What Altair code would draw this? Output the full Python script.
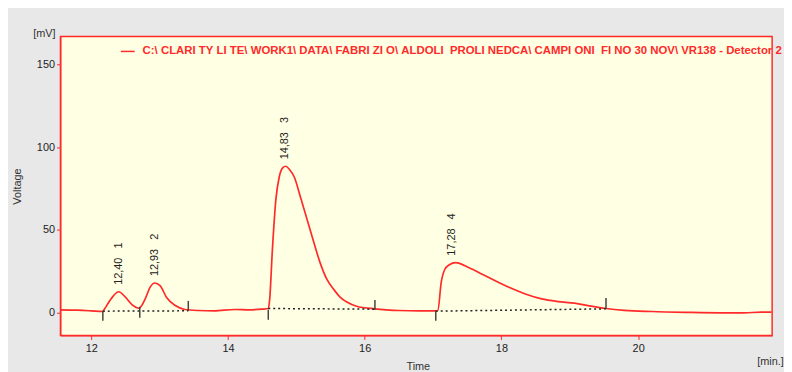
import altair as alt
import pandas as pd

# ---- data ----
trace_time = [11.55, 11.8, 12.0, 12.17, 12.19, 12.31, 12.40, 12.50, 12.60, 12.70, 12.79, 12.86, 12.93,
              13.01, 13.10, 13.23, 13.37, 13.56, 13.8, 14.1, 14.3, 14.5, 14.59, 14.61, 14.65, 14.70,
              14.75, 14.80, 14.845, 14.90, 14.97, 15.06, 15.16, 15.26, 15.35, 15.45, 15.55, 15.64,
              15.74, 15.88, 16.15, 16.32, 16.5, 16.8, 17.04, 17.07, 17.12, 17.17, 17.24, 17.33, 17.52,
              17.72, 17.91, 18.11, 18.35, 18.59, 18.83, 19.07, 19.31, 19.53, 19.80, 20.2, 20.7, 21.2,
              21.55, 21.8, 21.95]
trace_mv = [1.8, 1.6, 1.2, 0.8, 2.0, 9.5, 12.7, 9.5, 4.8, 2.8, 8.4, 15.4, 18.0,
            16.3, 9.4, 4.4, 2.0, 1.4, 1.2, 2.0, 1.8, 2.2, 2.6, 8.0, 38.0, 68.0,
            82.0, 87.5, 88.5, 86.5, 82.0, 70.0, 56.0, 42.0, 30.0, 20.0, 14.0, 9.5,
            6.5, 4.0, 2.4, 1.8, 1.4, 1.2, 1.2, 1.4, 18.5, 26.0, 29.0, 30.3, 27.3,
            23.3, 19.3, 15.4, 11.4, 8.4, 6.8, 5.8, 4.0, 2.6, 1.5, 0.8, 0.3, 0.0,
            0.0, 0.4, 0.4]

NB = "\u00a0"
peak_rt = [12.40, 12.93, 14.83, 17.28]
peak_height = [12.7, 18.0, 88.5, 30.3]
peak_time_text = ["12,40", "12,93", "14,83", "17,28"]
peak_number = ["1", "2", "3", "4"]

base_start = [12.17, 14.59, 17.04]
base_start_mv = [1.0, 2.6, 1.0]
base_end = [13.42, 16.15, 19.53]
base_end_mv = [1.2, 2.2, 2.4]

mark_time = [12.17, 12.71, 13.42, 14.59, 16.15, 17.04, 19.53]
mark_top = [1.2, 3.6, 7.2, 1.8, 7.8, 1.2, 9.0]
mark_bottom = [-4.8, -3.0, 1.2, -4.2, 1.8, -4.8, 2.4]

x_ticks = [12, 14, 16, 18, 20]
y_ticks = [0, 50, 100, 150]

legend_text = ("C:\\ CLARI TY LI TE\\ WORK1\\ DATA\\ FABRI ZI O\\ ALDOLI  PROLI NEDCA\\ "
               "CAMPI ONI  FI NO 30 NOV\\ VR138 - Detector 2").replace(" ", NB)

# ---- tables ----
trace = pd.DataFrame({"t": trace_time, "v": trace_mv})
peaks = pd.DataFrame({"t": peak_rt, "v": peak_height,
                      "lab": [a + NB * 3 + b for a, b in zip(peak_time_text, peak_number)]})
bases = pd.DataFrame({"t": base_start, "v": base_start_mv, "t2": base_end, "v2": base_end_mv})
marks = pd.DataFrame({"t": mark_time, "v": mark_top, "v2": mark_bottom})

RED = "#ff2a2a"
FONT = "Liberation Sans"

xs = alt.Scale(domain=[11.55, 21.96], nice=False, zero=False)
ys = alt.Scale(domain=[-13.7, 166.8], nice=False, zero=False)

xaxis = alt.Axis(values=x_ticks, format="d", title="Time", grid=False, domainColor=RED, tickColor=RED,
                 tickSize=4, labelColor="#222", labelFont=FONT, labelFontSize=11, labelPadding=3,
                 titleFont=FONT, titleFontSize=11, titleFontWeight="normal", titleColor="#333",
                 titleX=349, titleY=31, titleAlign="left", titleBaseline="middle")
yaxis = alt.Axis(values=y_ticks, format="d", title="Voltage", grid=False, domainColor=RED, tickColor=RED,
                 tickSize=4, labelColor="#222", labelFont=FONT, labelFontSize=11, labelPadding=2,
                 titleFont=FONT, titleFontSize=11, titleFontWeight="normal", titleColor="#333",
                 titleX=-43, titleY=151, titleAngle=270, titleAlign="center", titleBaseline="middle")

line = alt.Chart(trace).mark_line(color=RED, strokeWidth=1.7, interpolate="monotone").encode(
    x=alt.X("t:Q", scale=xs, axis=xaxis),
    y=alt.Y("v:Q", scale=ys, axis=yaxis),
)

baselines = alt.Chart(bases).mark_rule(color="#222", strokeDash=[2, 3], strokeWidth=1.5).encode(
    x=alt.X("t:Q", scale=xs), y=alt.Y("v:Q", scale=ys), x2="t2:Q", y2="v2:Q"
)

ticks = alt.Chart(marks).mark_rule(color="#444", strokeWidth=1.5).encode(
    x=alt.X("t:Q", scale=xs), y=alt.Y("v:Q", scale=ys), y2="v2:Q"
)

labels = alt.Chart(peaks).mark_text(angle=270, align="left", baseline="middle", dx=7,
                                    font=FONT, fontSize=11, color="#222").encode(
    x=alt.X("t:Q", scale=xs), y=alt.Y("v:Q", scale=ys), text="lab:N"
)

leg_df = pd.DataFrame({"lab": [legend_text]})
leg_line = alt.Chart(leg_df).mark_rule(color=RED, strokeWidth=1.5).encode(
    x=alt.value(61), x2=alt.value(75), y=alt.value(15)
)
leg_text = alt.Chart(leg_df).mark_text(align="left", baseline="middle", font=FONT, fontSize=11.5,
                                       fontWeight="bold", color=RED).encode(
    x=alt.value(83), y=alt.value(15), text="lab:N"
)

unit_df = pd.DataFrame({"lab": ["[mV]", "[min.]"]})
unit_mv = alt.Chart(unit_df.iloc[[0]]).mark_text(align="right", baseline="middle", font=FONT,
                                                 fontSize=11, color="#333").encode(
    x=alt.value(-5), y=alt.value(-3), text="lab:N"
)
unit_min = alt.Chart(unit_df.iloc[[1]]).mark_text(align="left", baseline="middle", font=FONT,
                                                  fontSize=11, color="#333").encode(
    x=alt.value(704), y=alt.value(329), text="lab:N"
)

chart = alt.layer(line, baselines, ticks, labels, leg_line, leg_text, unit_mv, unit_min).properties(
    width=719, height=302,
    autosize=alt.AutoSizeParams(type="none"),
    padding={"left": 53, "top": 27, "right": 12, "bottom": 35},
    background="#e8e8e8",
).configure_view(fill="#ffffe3", stroke=RED, strokeWidth=1.5)

chart.save("out.html", embed_options={"renderer": "svg", "actions": False})
